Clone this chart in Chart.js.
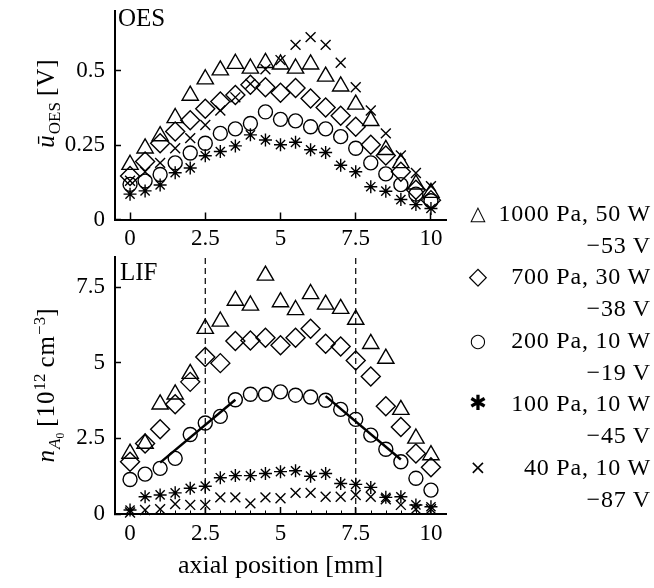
<!DOCTYPE html>
<html>
<head>
<meta charset="utf-8">
<script src="https://cdn.jsdelivr.net/npm/chart.js@4.4.1/dist/chart.umd.min.js"></script>
<style>
  body { margin: 0; background: #fff; }
  #wrap { position: relative; width: 654px; height: 588px; font-family: 'Liberation Serif', serif; color: #000; }
  canvas { position: absolute; left: 0; top: 0; }
  .panel { position: absolute; font-size: 25px; line-height: 1; }
  .ytitle { position: absolute; width: 300px; height: 34px; line-height: 34px; text-align: center;
            font-size: 25px; white-space: nowrap; letter-spacing: 1px; transform: rotate(-90deg); }
  .ytitle sub { font-size: 0.68em; letter-spacing: 0; line-height: 0; }
  .ytitle sup { font-size: 0.68em; letter-spacing: 0; line-height: 0; }
  .leg { position: absolute; right: 3px; font-size: 24px; line-height: 24px; white-space: nowrap; letter-spacing: 0.8px; }
  .mk { position: absolute; font-family: 'DejaVu Sans', sans-serif; line-height: 24px; transform: translateX(-50%); }
</style>
</head>
<body>
<div id="wrap">
  <canvas id="oes" width="654" height="588"></canvas>
  <canvas id="lif" width="654" height="588"></canvas>
  <div class="panel" style="left:118px;top:5px;">OES</div>
  <div class="panel" style="left:120px;top:259px;">LIF</div>
  <div class="ytitle" style="left:-104px;top:86px;"><i>ū</i><sub>OES</sub>&thinsp;[V]</div>
  <div class="ytitle" style="left:-104px;top:368px;"><i>n</i><sub><i>A</i><sub>0</sub></sub>&thinsp;[10<sup>12</sup>&thinsp;cm<sup>−3</sup>]</div>
  <div id="legend"></div>
</div>
<script>
// axial positions [mm]
const positions = [0, 0.5, 1, 1.5, 2, 2.5, 3, 3.5, 4, 4.5, 5, 5.5, 6, 6.5, 7, 7.5, 8, 8.5, 9, 9.5, 10];

// OES, mean voltage [V]
const oes1000 = [0.184, 0.239, 0.280, 0.341, 0.416, 0.471, 0.501, 0.523, 0.507, 0.526, 0.521, 0.507, 0.521, 0.480, 0.447, 0.386, 0.331, 0.234, 0.190, 0.118, 0.090];
const oes700  = [0.146, 0.195, 0.256, 0.295, 0.333, 0.372, 0.396, 0.418, 0.452, 0.444, 0.425, 0.441, 0.406, 0.376, 0.348, 0.311, 0.251, 0.215, 0.160, 0.100, 0.065];
const oes200  = [0.118, 0.129, 0.151, 0.190, 0.223, 0.256, 0.289, 0.304, 0.322, 0.361, 0.336, 0.331, 0.311, 0.304, 0.278, 0.239, 0.190, 0.153, 0.117, 0.085, 0.063];
const oes100  = [0.085, 0.096, 0.116, 0.157, 0.173, 0.214, 0.228, 0.247, 0.284, 0.267, 0.251, 0.259, 0.234, 0.225, 0.182, 0.160, 0.110, 0.095, 0.067, 0.050, 0.037];
const oes40   = [0.130, 0.160, 0.190, 0.239, 0.273, 0.317, 0.366, 0.410, 0.455, 0.504, 0.535, 0.586, 0.612, 0.586, 0.526, 0.444, 0.366, 0.289, 0.215, 0.156, 0.112];

// LIF, density [1e12 cm^-3]
const lif1000 = [2.00, 2.33, 3.63, 3.96, 4.64, 6.13, 6.37, 7.06, 6.90, 7.89, 7.01, 6.75, 7.28, 6.93, 6.79, 6.43, 5.63, 5.14, 3.45, 2.50, 1.95];
const lif700  = [1.73, 2.33, 2.80, 3.63, 4.37, 5.19, 4.99, 5.72, 5.74, 5.83, 5.58, 5.83, 6.13, 5.63, 5.54, 5.08, 4.55, 3.56, 2.88, 2.00, 1.55];
const lif200  = [1.14, 1.32, 1.51, 1.84, 2.63, 3.01, 3.23, 3.78, 3.96, 3.96, 4.04, 3.93, 3.87, 3.76, 3.46, 3.13, 2.61, 2.14, 1.73, 1.18, 0.79];
const lif100  = [0.13, 0.57, 0.63, 0.70, 0.85, 0.92, 1.20, 1.27, 1.27, 1.34, 1.40, 1.43, 1.25, 1.34, 1.01, 0.98, 0.88, 0.55, 0.57, 0.30, 0.24];
const lif40   = [0.05, 0.13, 0.16, 0.33, 0.30, 0.30, 0.55, 0.55, 0.35, 0.55, 0.52, 0.70, 0.70, 0.57, 0.57, 0.63, 0.57, 0.49, 0.30, 0.16, 0.16];

// linear fits on the 200 Pa flanks
const fitLeftX = [1, 3.5];
const fitLeftY = [1.70, 3.78];
const fitRightX = [6.5, 9];
const fitRightY = [3.90, 1.80];
const guideX = [2.5, 7.5];

const xTicks = [0, 2.5, 5, 7.5, 10];
const xMinor = [0.5, 1, 1.5, 2, 3, 3.5, 4, 4.5, 5.5, 6, 6.5, 7, 8, 8.5, 9, 9.5];
const oesTicks = [0, 0.25, 0.5];
const lifTicks = [0, 2.5, 5, 7.5];

const legendNames = ['1000 Pa, 50 W', '700 Pa, 30 W', '200 Pa, 10 W', '100 Pa, 10 W', '40 Pa, 10 W'];
const legendBias = ['\u221253 V', '\u221238 V', '\u221219 V', '\u221245 V', '\u221287 V'];

const styles = [
  { pointStyle: 'triangle', r: 9.4, sym: '\u25B3', fs: 20 },
  { pointStyle: 'rectRot', r: 9.5, sym: '\u25C7', fs: 24 },
  { pointStyle: 'circle', r: 7, sym: '\u25CB', fs: 19 },
  { pointStyle: 'star', r: 6.5, sym: '\u2731', fs: 21 },
  { pointStyle: 'crossRot', r: 7, sym: '\u00D7', fs: 20 }
];

const font = { family: "'Liberation Serif', serif", size: 23 };

function pts(xs, ys) { return xs.map((x, i) => ({ x: x, y: ys[i] })); }

function markerSets(series) {
  return series.map((ys, i) => ({
    data: pts(positions, ys),
    pointStyle: styles[i].pointStyle,
    pointRadius: styles[i].r,
    borderColor: '#000',
    backgroundColor: 'rgba(0,0,0,0)',
    borderWidth: 1.4,
    clip: false
  }));
}

function lineSet(xs, ys, extra) {
  return Object.assign({
    data: pts(xs, ys), showLine: true, pointRadius: 0, borderColor: '#000',
    borderWidth: 2.5, fill: false, clip: false
  }, extra || {});
}

function xScale(withTitle) {
  return {
    type: 'linear', min: -0.5, max: 10.5,
    afterBuildTicks: s => { s.ticks = xTicks.map(v => ({ value: v })); },
    afterFit: s => { s.height = withTitle ? 70 : 30; s.paddingLeft = 0; s.paddingRight = 0; },
    border: { color: '#000', width: 2 },
    grid: { drawOnChartArea: false, tickLength: -7, tickColor: '#000', tickWidth: 1.5 },
    ticks: { color: '#000', font: font, padding: 13, maxRotation: 0, autoSkip: false, callback: v => String(v) },
    title: {
      display: withTitle, text: 'axial position [mm]', color: '#000',
      font: { family: "'Liberation Serif', serif", size: 26 }, padding: { top: 0, bottom: 2 }
    }
  };
}

function yScale(min, max, ticks) {
  return {
    type: 'linear', min: min, max: max,
    afterBuildTicks: s => { s.ticks = ticks.map(v => ({ value: v })); },
    afterFit: s => { s.width = 60; s.paddingTop = 0; s.paddingBottom = 0; },
    border: { color: '#000', width: 2 },
    grid: { drawOnChartArea: false, tickLength: -6, tickColor: '#000', tickWidth: 1.5 },
    ticks: { color: '#000', font: font, padding: 16, autoSkip: false, callback: v => String(v) }
  };
}

// short inward minor ticks on the lower x axis
const minorTicks = {
  id: 'minorTicks',
  afterDraw(chart) {
    const sx = chart.scales.x, ctx = chart.ctx, y0 = chart.chartArea.bottom;
    ctx.save();
    ctx.strokeStyle = '#000';
    ctx.lineWidth = 1;
    xMinor.forEach(v => {
      const px = Math.round(sx.getPixelForValue(v)) + 0.5;
      ctx.beginPath();
      ctx.moveTo(px, y0);
      ctx.lineTo(px, y0 - 3.5);
      ctx.stroke();
    });
    ctx.restore();
  }
};

const common = {
  responsive: false, animation: false, devicePixelRatio: 1,
  plugins: { legend: { display: false }, tooltip: { enabled: false } }
};

new Chart(document.getElementById('oes'), {
  type: 'scatter',
  data: { datasets: markerSets([oes1000, oes700, oes200, oes100, oes40]) },
  options: Object.assign({}, common, {
    layout: { padding: { left: 55, right: 208, top: 8, bottom: 588 - 219.5 - 30 } },
    scales: { x: xScale(false), y: yScale(0, 0.7, oesTicks) }
  })
});

new Chart(document.getElementById('lif'), {
  type: 'scatter',
  data: {
    datasets: markerSets([lif1000, lif700, lif200, lif100, lif40]).concat([
      lineSet(fitLeftX, fitLeftY),
      lineSet(fitRightX, fitRightY),
      lineSet([guideX[0], guideX[0]], [0, 8.5], { borderWidth: 1.2, borderDash: [6, 4] }),
      lineSet([guideX[1], guideX[1]], [0, 8.5], { borderWidth: 1.2, borderDash: [6, 4] })
    ])
  },
  options: Object.assign({}, common, {
    layout: { padding: { left: 55, right: 208, top: 257, bottom: 4 } },
    scales: { x: xScale(true), y: yScale(0, 8.5, lifTicks) }
  }),
  plugins: [minorTicks]
});

// legend
const legend = document.getElementById('legend');
legendNames.forEach((name, i) => {
  const yc = 213 + i * 63.4;
  const mk = document.createElement('div');
  mk.className = 'mk';
  mk.style.left = '478px';
  mk.style.top = (yc - 12) + 'px';
  mk.style.fontSize = styles[i].fs + 'px';
  mk.textContent = styles[i].sym;
  legend.appendChild(mk);
  const a = document.createElement('div');
  a.className = 'leg';
  a.style.top = (yc - 12) + 'px';
  a.textContent = name;
  legend.appendChild(a);
  const b = document.createElement('div');
  b.className = 'leg';
  b.style.top = (yc + 32 - 12) + 'px';
  b.textContent = legendBias[i];
  legend.appendChild(b);
});
</script>
</body>
</html>
